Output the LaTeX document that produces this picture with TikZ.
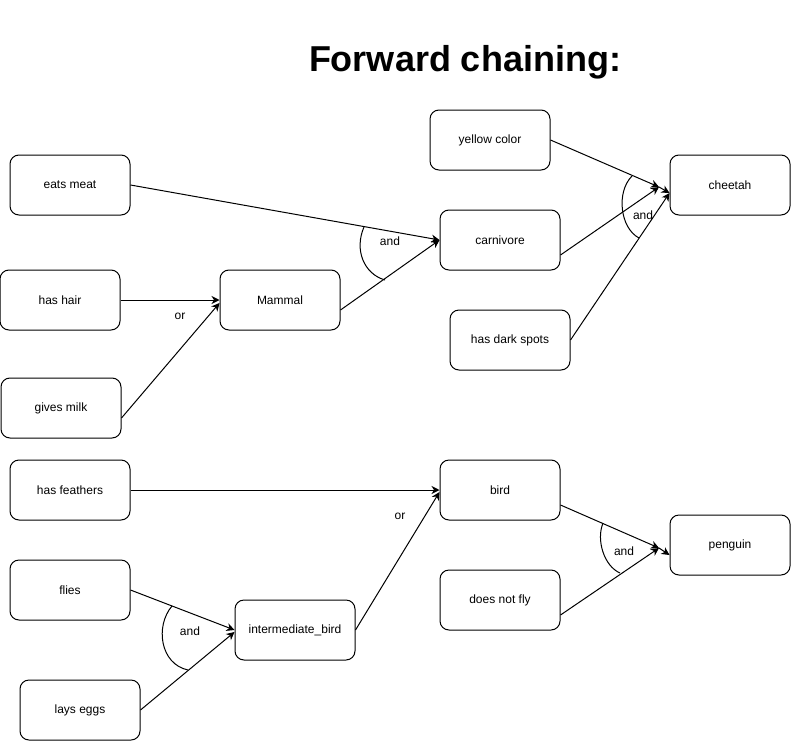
\documentclass[tikz,border=0pt]{standalone}
\usepackage{fontspec}
\setmainfont{Liberation Sans}
\usetikzlibrary{arrows.meta,calc}
\begin{document}
\begin{tikzpicture}[x=1pt,y=-1pt,
 box/.style={draw,rounded corners=9pt,minimum width=120pt,minimum height=60pt,inner sep=0pt,font=\fontsize{12}{14}\selectfont,line width=1pt},
 conn/.style={line width=1pt,-{Stealth[length=8pt,width=8pt,inset=2.5pt]}},
 lab/.style={font=\fontsize{12}{14}\selectfont,inner sep=0pt},
 arcline/.style={line width=1pt}]
\useasboundingbox[fill=white] (0,0) rectangle (791,741);
\node[font=\fontsize{36}{40}\selectfont\bfseries] (title) at (465,62) {Forward chaining:};
% nodes
\node[box] (em) at (70,185) {eats meat};
\node[box] (hh) at (60,300) {has hair};
\node[box] (gm) at (61,408) {gives milk};
\node[box] (mam) at (280,300) {Mammal};
\node[box] (yc) at (490,140) {yellow color};
\node[box] (carn) at (500,240) {carnivore};
\node[box] (ds) at (510,340) {has dark spots};
\node[box] (ch) at (730,185) {cheetah};
\node[box] (hf) at (70,490) {has feathers};
\node[box] (bird) at (500,490) {bird};
\node[box] (fl) at (70,590) {flies};
\node[box] (le) at (80,710) {lays eggs};
\node[box] (ib) at (295,630) {intermediate\_bird};
\node[box] (dnf) at (500,600) {does not fly};
\node[box] (pg) at (730,545) {penguin};
\coordinate (jc) at (659,187);
\coordinate (jp) at (659,548);
% connectors
\draw[conn] (em.east) -- (carn.west);
\draw[conn] ($(mam.east)+(0,10)$) -- (carn.west);
\draw[conn] (hh.east) -- (mam.west);
\draw[conn] ($(gm.east)+(0,10)$) -- ($(mam.west)+(0,3)$);
\draw[conn] (yc.east) -- (jc);
\draw[conn] ($(carn.east)+(0,15)$) -- (jc);
\draw[conn] (jc) -- ($(ch.west)+(0,8)$);
\draw[conn] (ds.east) -- ($(ch.west)+(0,8)$);
\draw[conn] (hf.east) -- (bird.west);
\draw[conn] (ib.east) -- ($(bird.west)+(0,2)$);
\draw[conn] (fl.east) -- (ib.west);
\draw[conn] (le.east) -- ($(ib.west)+(0,2)$);
\draw[conn] ($(bird.east)+(0,15)$) -- (jp);
\draw[conn] ($(dnf.east)+(0,15)$) -- (jp);
\draw[conn] (jp) -- ($(pg.west)+(0,10)$);
% arcs
\draw[arcline] (364,227) .. controls (354,250) and (364,274) .. (385,280);
\draw[arcline] (632,176) .. controls (616,192) and (620,228) .. (639,238);
\draw[arcline] (603,523) .. controls (596,540) and (604,566) .. (620,573);
\draw[arcline] (172,606) .. controls (155,626) and (160,664) .. (188,670);
% labels
\node[lab] (l1) at (390,241) {and};
\node[lab] (l2) at (643,215) {and};
\node[lab] (l3) at (624,551) {and};
\node[lab] (l4) at (190,631) {and};
\node[lab] (o1) at (180,316) {or};
\node[lab] (o2) at (400,516) {or};
\end{tikzpicture}
\end{document}
